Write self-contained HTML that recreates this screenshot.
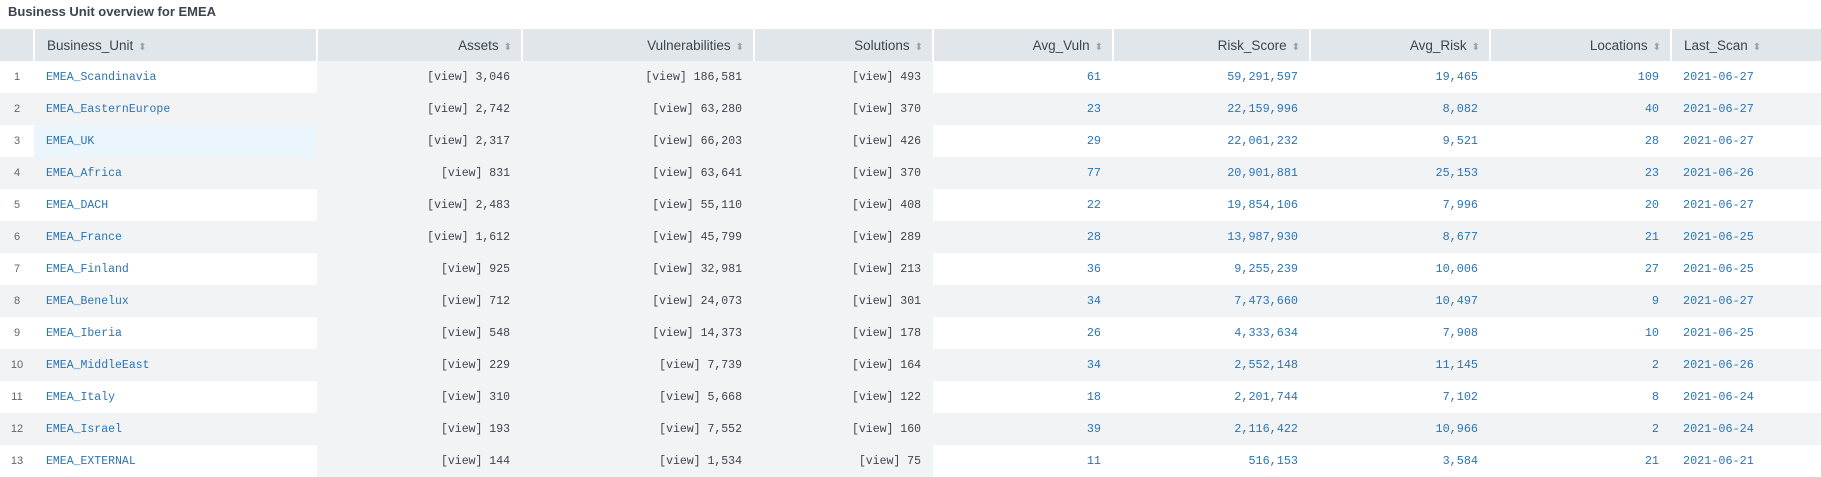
<!DOCTYPE html>
<html><head><meta charset="utf-8">
<style>
*{box-sizing:border-box;margin:0;padding:0}
body{width:1821px;height:475px;overflow:hidden;background:#fff;font-family:"Liberation Sans",sans-serif;color:#3c444d}
#title{position:absolute;left:8px;top:3px;font-size:13px;font-weight:bold;color:#3c444d;line-height:18px}
table{position:absolute;left:0;top:29px;border-collapse:collapse;table-layout:fixed;width:1821px}
th{background:#e1e6eb;height:32px;font-weight:normal;font-size:13.5px;color:#3c444d;border-left:2px solid #fff;padding:0 9px;white-space:nowrap}
th:first-child{border-left:none}
th.r{text-align:right}th.l{text-align:left;padding-left:12px}
.s{color:#9aa3ab;font-size:10px;margin-left:5px}
td{height:32px;font-family:"Liberation Mono",monospace;font-size:11.8px;padding:0 12px;white-space:nowrap;text-align:right;color:#2b74b4}
td.i{text-align:center;color:#5c6773;font-family:"Liberation Sans",sans-serif;font-size:11px;padding:0}
td.bu{text-align:left;padding-left:12px;font-size:11.5px}
td.v{color:#3c444d;background:#f2f3f5;font-size:11.5px}
td.d{text-align:left;padding-left:12px}
tr.e td{background:#f2f3f5}
td.hl{background:#eaf5fc}
</style></head><body>
<div id="title">Business Unit overview for EMEA</div>
<table>
<colgroup><col style="width:34px"><col style="width:283px"><col style="width:205px"><col style="width:232px"><col style="width:179px"><col style="width:180px"><col style="width:197px"><col style="width:180px"><col style="width:181px"><col style="width:150px"></colgroup>
<thead><tr id="hdr"></tr></thead>
<tbody id="body"></tbody>
</table>
<script>
const headers=["Business_Unit","Assets","Vulnerabilities","Solutions","Avg_Vuln","Risk_Score","Avg_Risk","Locations","Last_Scan"];
const units=["EMEA_Scandinavia","EMEA_EasternEurope","EMEA_UK","EMEA_Africa","EMEA_DACH","EMEA_France","EMEA_Finland","EMEA_Benelux","EMEA_Iberia","EMEA_MiddleEast","EMEA_Italy","EMEA_Israel","EMEA_EXTERNAL"];
const assets=[3046,2742,2317,831,2483,1612,925,712,548,229,310,193,144];
const vulns=[186581,63280,66203,63641,55110,45799,32981,24073,14373,7739,5668,7552,1534];
const solutions=[493,370,426,370,408,289,213,301,178,164,122,160,75];
const avgVuln=[61,23,29,77,22,28,36,34,26,34,18,39,11];
const riskScore=[59291597,22159996,22061232,20901881,19854106,13987930,9255239,7473660,4333634,2552148,2201744,2116422,516153];
const avgRisk=[19465,8082,9521,25153,7996,8677,10006,10497,7908,11145,7102,10966,3584];
const locations=[109,40,28,23,20,21,27,9,10,2,8,2,21];
const lastScan=["2021-06-27","2021-06-27","2021-06-27","2021-06-26","2021-06-27","2021-06-25","2021-06-25","2021-06-27","2021-06-25","2021-06-26","2021-06-24","2021-06-24","2021-06-21"];
const fmt=n=>n.toLocaleString('en-US');
const hdr=document.getElementById('hdr');
const h0=document.createElement('th');


hdr.appendChild(h0);
headers.forEach((h,i)=>{
  const th=document.createElement('th');
  th.className=(i===0||i===8)?'l':'r';
  th.innerHTML=h+'<span class="s">&#11021;</span>';
  
  
  hdr.appendChild(th);
});
const body=document.getElementById('body');
units.forEach((u,r)=>{
  const tr=document.createElement('tr');
  if(r%2===1) tr.className='e';
  
  
  const cells=[
    [String(r+1),'i','row-number',false],
    [u,'bu'+(r===2?' hl':''),'business-unit-link',true],
    ['[view] '+fmt(assets[r]),'v','assets-cell',true],
    ['[view] '+fmt(vulns[r]),'v','vulnerabilities-cell',true],
    ['[view] '+fmt(solutions[r]),'v','solutions-cell',true],
    [fmt(avgVuln[r]),'','avg-vuln-cell',true],
    [fmt(riskScore[r]),'','risk-score-cell',true],
    [fmt(avgRisk[r]),'','avg-risk-cell',true],
    [fmt(locations[r]),'','locations-cell',true],
    [lastScan[r],'d','last-scan-cell',true]
  ];
  cells.forEach(c=>{
    const td=document.createElement('td');
    td.textContent=c[0];
    if(c[1]) td.className=c[1];
    
    
    tr.appendChild(td);
  });
  body.appendChild(tr);
});
</script>
</body></html>
